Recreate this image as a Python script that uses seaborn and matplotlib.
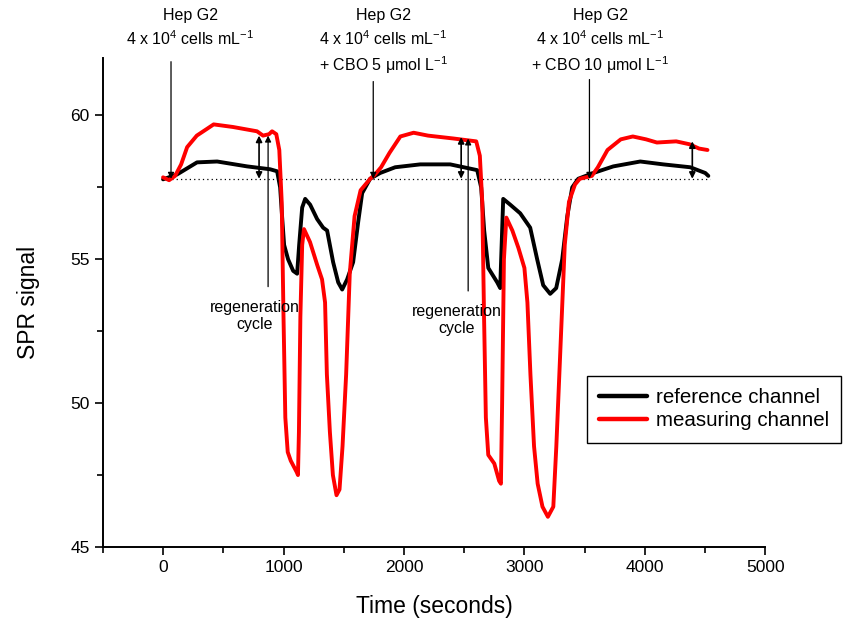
import numpy as np
import pandas as pd
import matplotlib
matplotlib.use("Agg")
import matplotlib.pyplot as plt
from matplotlib.ticker import MultipleLocator
import seaborn as sns

# ---------------------------------
# Data
# ---------------------------------

ref_time = [0, 116, 282, 449, 698, 889, 947, 972, 988, 1005, 1038, 1080, 1113, 1130, 1155,
            1180, 1221, 1279, 1329, 1362, 1412, 1454, 1487, 1528, 1578, 1620, 1653, 1719,
            1802, 1927, 2135, 2384, 2608, 2641, 2666, 2700, 2774, 2799, 2824, 2882, 2965,
            3048, 3106, 3156, 3214, 3264, 3314, 3356, 3397, 3447, 3572, 3738, 3962, 4153,
            4377, 4502, 4527]
ref_signal = [57.78, 57.95, 58.37, 58.40, 58.23, 58.13, 58.06, 57.5, 56.5, 55.5, 55.0, 54.6,
              54.5, 55.5, 56.8, 57.1, 56.9, 56.4, 56.1, 56.0, 54.9, 54.2, 53.95, 54.3, 54.9,
              56.3, 57.3, 57.8, 58.0, 58.2, 58.3, 58.3, 58.1, 57.5, 56.0, 54.7, 54.2, 54.0,
              57.1, 56.9, 56.6, 56.1, 55.0, 54.1, 53.8, 54.0, 55.0, 56.5, 57.5, 57.8, 58.0,
              58.23, 58.4, 58.3, 58.2, 58.0, 57.9]

meas_time = [0, 50, 100, 150, 200, 280, 370, 420, 580, 780, 830, 880, 905, 940, 965, 985,
             1000, 1015, 1035, 1060, 1110, 1120, 1128, 1140, 1155, 1170, 1220, 1280, 1320,
             1345, 1360, 1385, 1410, 1440, 1465, 1490, 1520, 1550, 1590, 1640, 1720, 1760,
             1810, 1880, 1970, 2080, 2200, 2410, 2600, 2630, 2650, 2665, 2680, 2700, 2750,
             2790, 2805, 2815, 2830, 2850, 2900, 2950, 3000, 3025, 3050, 3080, 3110, 3150,
             3195, 3240, 3265, 3300, 3335, 3370, 3420, 3460, 3560, 3610, 3690, 3800, 3900,
             4010, 4100, 4260, 4370, 4450, 4520]
meas_signal = [57.85, 57.75, 57.9, 58.3, 58.9, 59.3, 59.55, 59.69, 59.6, 59.45, 59.3, 59.35,
               59.45, 59.35, 58.8, 57.0, 53.0, 49.5, 48.3, 48.0, 47.6, 47.5, 49.0, 53.0, 55.5,
               56.05, 55.6, 54.8, 54.3, 53.5, 51.0, 49.0, 47.5, 46.8, 47.0, 48.5, 51.0, 54.5,
               56.5, 57.4, 57.8, 57.95, 58.2, 58.7, 59.27, 59.4, 59.3, 59.2, 59.1, 58.6, 57.0,
               53.0, 49.5, 48.2, 47.9, 47.3, 47.2, 50.0, 55.0, 56.45, 56.0, 55.4, 54.7, 53.5,
               51.0, 48.5, 47.2, 46.4, 46.05, 46.4, 48.5, 52.0, 55.5, 57.0, 57.6, 57.8, 57.9,
               58.2, 58.8, 59.17, 59.27, 59.17, 59.06, 59.1, 59.0, 58.85, 58.8]

baseline = 57.8

# injection arrows (time, label)
inject_times = [66, 1745, 3540]
inject_labels = [
    "Hep G2\n4 x 10$^{4}$ cells mL$^{-1}$",
    "Hep G2\n4 x 10$^{4}$ cells mL$^{-1}$\n+ CBO 5 μmol L$^{-1}$",
    "Hep G2\n4 x 10$^{4}$ cells mL$^{-1}$\n+ CBO 10 μmol L$^{-1}$",
]

# double arrows (time, top value)
double_times = [797, 2475, 4394]
double_tops = [59.3, 59.25, 59.1]

# regeneration arrows (time, top value)
regen_times = [872, 2533]
regen_tops = [59.3, 59.2]

# ---------------------------------
# Plot
# ---------------------------------

sns.set_style("ticks")
plt.rcParams['font.family'] = ['Liberation Sans', 'DejaVu Sans']
plt.rcParams['mathtext.fontset'] = 'custom'
plt.rcParams['mathtext.rm'] = 'Liberation Sans'
plt.rcParams['mathtext.it'] = 'Liberation Sans:italic'
plt.rcParams['text.color'] = 'black'
plt.rcParams['axes.labelcolor'] = 'black'
plt.rcParams['xtick.color'] = 'black'
plt.rcParams['ytick.color'] = 'black'

fig = plt.figure(figsize=(8.57, 6.23), dpi=100)
ax = fig.add_axes([0.120, 0.122, 0.773, 0.785])

ref_df = pd.DataFrame({"time": ref_time, "signal": ref_signal})
meas_df = pd.DataFrame({"time": meas_time, "signal": meas_signal})

ax.hlines(baseline, 0, 4540, colors="black", linestyles=(0, (1, 2.5)), lw=0.9)

sns.lineplot(data=ref_df, x="time", y="signal", color="black", lw=2.8,
             label="reference channel", ax=ax, sort=False)
sns.lineplot(data=meas_df, x="time", y="signal", color="#ff0000", lw=2.8,
             label="measuring channel", ax=ax, sort=False)

# injection arrows with labels
arrow_starts = [61.87, 61.18, 61.25]
text_x = [224, 1827, 3630]
for t, lab, y0, tx in zip(inject_times, inject_labels, arrow_starts, text_x):
    ax.annotate("", xy=(t, baseline), xytext=(t, y0),
                arrowprops=dict(arrowstyle="-|>", color="black", lw=0.9,
                                mutation_scale=9, shrinkA=0, shrinkB=0))
    ax.text(tx, 63.75, lab, ha="center", va="top", fontsize=11.5,
            linespacing=1.4, clip_on=False)

# double headed arrows
for t, top in zip(double_times, double_tops):
    ax.annotate("", xy=(t, top), xytext=(t, baseline),
                arrowprops=dict(arrowstyle="<|-|>", color="black", lw=1.2,
                                mutation_scale=9, shrinkA=0, shrinkB=0))

# regeneration cycle arrows
regen_text_x = [760, 2440]
regen_text_y = [53.6, 53.45]
for t, top, tx, ty in zip(regen_times, regen_tops, regen_text_x, regen_text_y):
    ax.annotate("", xy=(t, top), xytext=(t, ty + 0.45),
                arrowprops=dict(arrowstyle="-|>", color="black", lw=0.9,
                                mutation_scale=9, shrinkA=0, shrinkB=0))
    ax.text(tx, ty, "regeneration\ncycle", ha="center", va="top", fontsize=11.5,
            linespacing=1.2)

ax.set_xlim(-500, 5000)
ax.set_ylim(45, 62)
ax.xaxis.set_major_locator(MultipleLocator(1000))
ax.xaxis.set_minor_locator(MultipleLocator(500))
ax.yaxis.set_major_locator(MultipleLocator(5))
ax.yaxis.set_minor_locator(MultipleLocator(2.5))
ax.tick_params(which="major", direction="out", length=6, width=1.2, labelsize=12.5, color="black")
ax.tick_params(which="minor", direction="out", length=4, width=1.2, color="black")

for side in ["top", "right"]:
    ax.spines[side].set_visible(False)
for side in ["left", "bottom"]:
    ax.spines[side].set_linewidth(1.4)
    ax.spines[side].set_color("black")

ax.set_xlabel("Time (seconds)", fontsize=16.5, labelpad=14)
ax.set_ylabel("SPR signal", fontsize=16.5, labelpad=22)

leg = ax.legend(loc="upper left", bbox_to_anchor=(587 / 857, 1 - 376 / 623),
                bbox_transform=fig.transFigure, borderaxespad=0, fontsize=14.8,
                frameon=True, fancybox=False, edgecolor="black", framealpha=1,
                handlelength=2.3, borderpad=0.6, labelspacing=0.2, handletextpad=0.45)
leg.get_frame().set_linewidth(1.0)
for line in leg.get_lines():
    line.set_linewidth(3.2)

fig.savefig("out.png", dpi=100)
